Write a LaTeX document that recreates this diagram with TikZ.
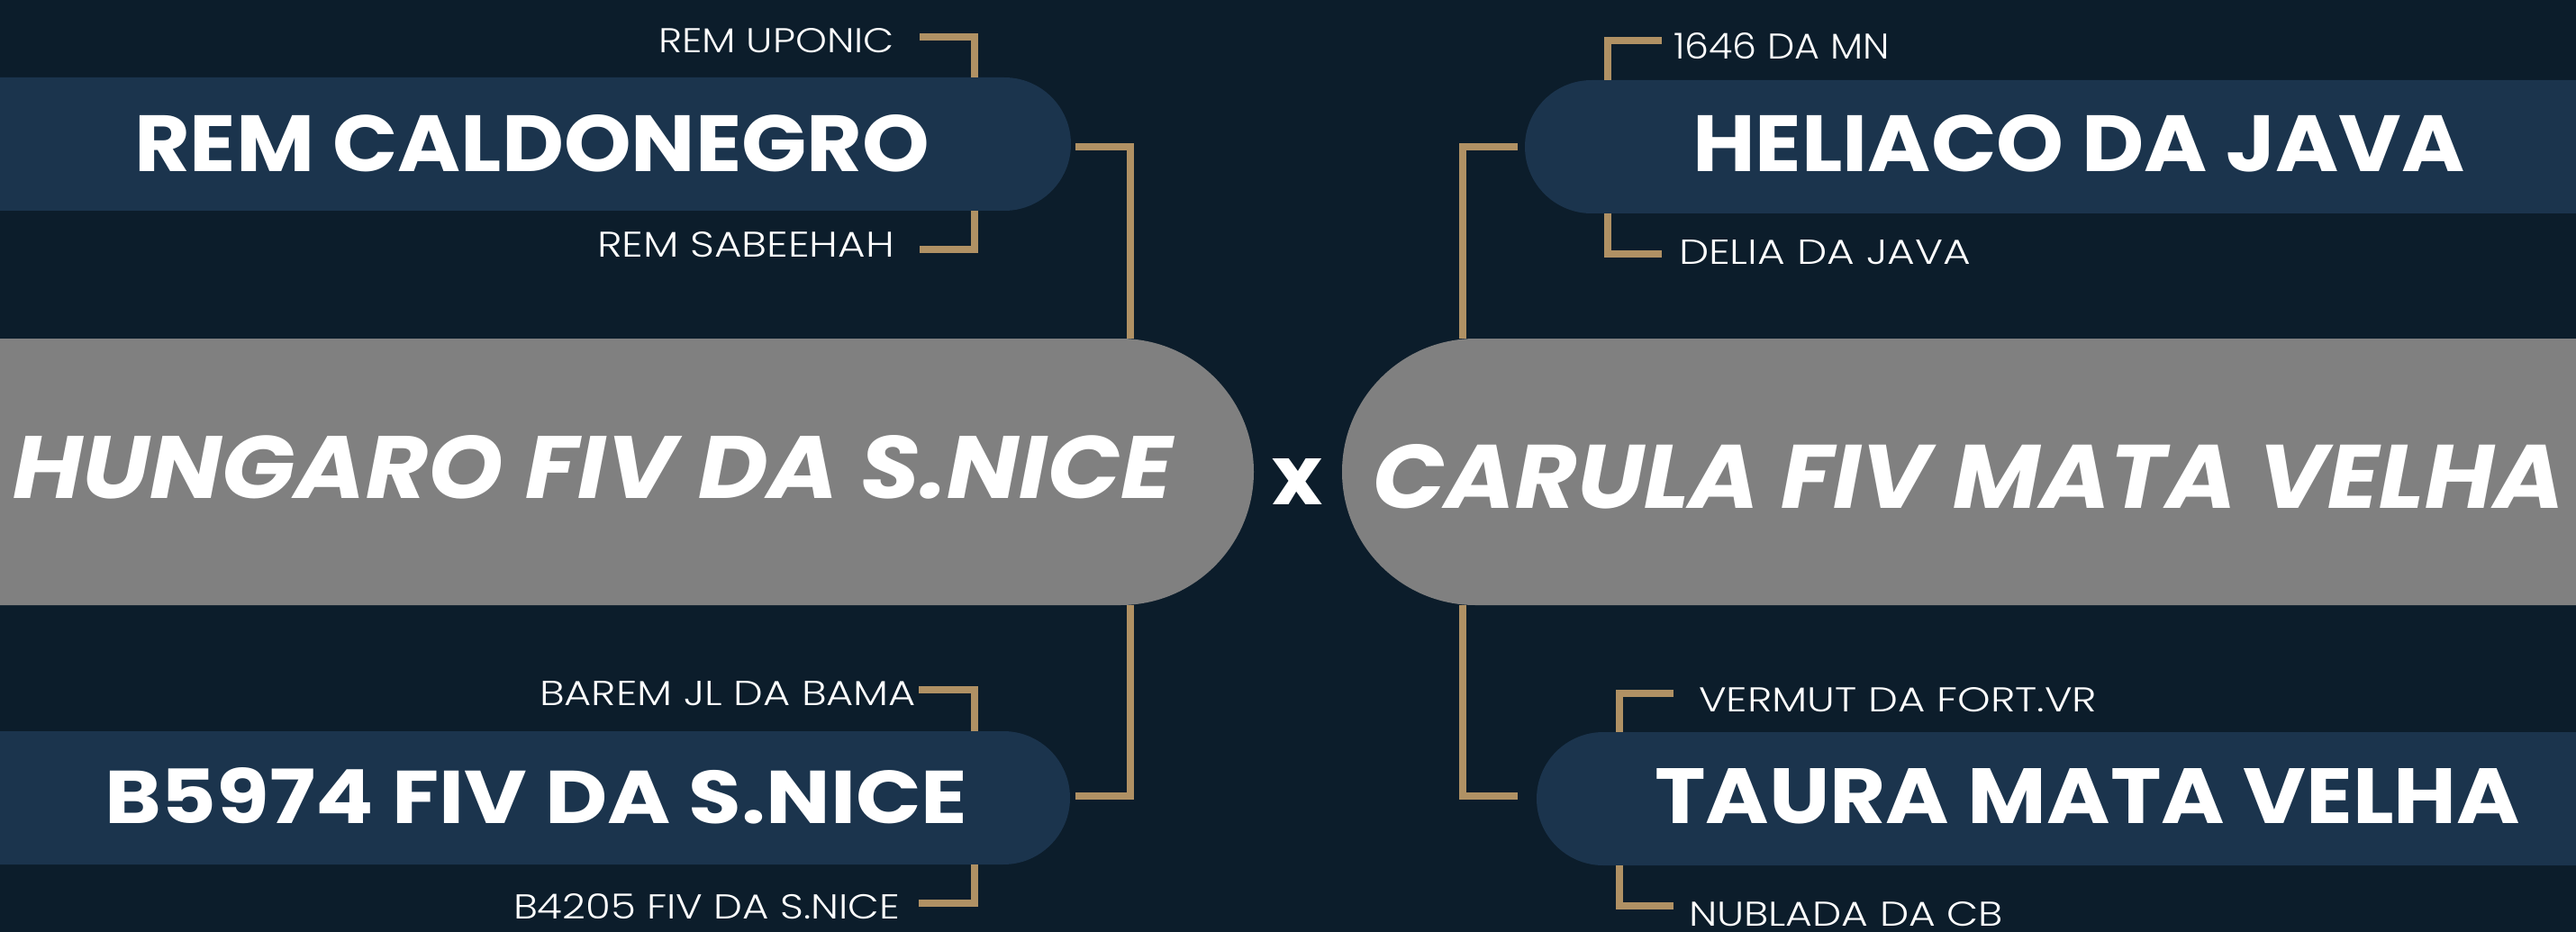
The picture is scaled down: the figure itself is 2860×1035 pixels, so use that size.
\documentclass[tikz,border=0pt]{standalone}
\usepackage{fontspec}
\usepackage{graphicx}
\usetikzlibrary{shapes.misc}
\setmainfont{Poppins}
\IfFontExistsTF{Poppins Light}{\newfontfamily\lightfont{Poppins Light}}{\newfontfamily\lightfont{Poppins}}
\IfFontExistsTF{Poppins Bold}{\newfontfamily\heavyfont{Poppins Bold}}{\newfontfamily\heavyfont{Poppins}[FakeBold=2]}
\IfFontExistsTF{Poppins Bold Italic}{\newfontfamily\heavyitfont{Poppins Bold Italic}}{\newfontfamily\heavyitfont{Poppins}[FakeBold=2,FakeSlant=0.2]}
\definecolor{bgc}{RGB}{12,29,43}
\definecolor{navy}{RGB}{27,52,77}
\definecolor{greyc}{RGB}{128,128,128}
\definecolor{gold}{RGB}{176,145,100}
\newcommand\fitbox[3]{\resizebox{#1pt}{#2pt}{#3}}
\begin{document}
\begin{tikzpicture}[x=1pt,y=-1pt,
  bar/.style={rounded rectangle, inner sep=0pt, outer sep=0pt, minimum height=148pt, fill=navy, draw=none},
  bigbar/.style={rounded rectangle, inner sep=0pt, outer sep=0pt, minimum height=296pt, fill=greyc, draw=none},
  conn/.style={draw=gold, line width=8.5pt, line join=miter},
  lbl/.style={anchor=base west, inner sep=0pt, outer sep=0pt, text=white}]
\useasboundingbox (0,0) rectangle (2860,1035);
\fill[bgc] (0,0) rectangle (2860,1035);

% bars
\node[bar, rounded rectangle left arc=none, minimum width=1199pt, anchor=west] (b1) at (-10,160) {};
\node[bar, rounded rectangle left arc=none, minimum width=1198pt, anchor=west] (b2) at (-10,886) {};
\node[bar, rounded rectangle right arc=none, minimum width=1177pt, anchor=west] (b3) at (1693,163) {};
\node[bar, rounded rectangle right arc=none, minimum width=1164pt, anchor=west] (b4) at (1706,887) {};
\node[bigbar, rounded rectangle left arc=none, minimum width=1402pt, anchor=west] (g1) at (-10,524) {};
\node[bigbar, rounded rectangle right arc=none, minimum width=1380pt, anchor=west] (g2) at (1490,524) {};

% coordinates for connectors
\coordinate (a1) at (1021,41);   \coordinate (a2) at (1082,86);
\coordinate (a3) at (1082,234);  \coordinate (a4) at (1021,277);
\coordinate (c1) at (1194,163);  \coordinate (c2) at (1255,376);
\coordinate (c3) at (1255,672);  \coordinate (c4) at (1194,884);
\coordinate (e1) at (1020,766);  \coordinate (e2) at (1082,812);
\coordinate (e3) at (1082,960);  \coordinate (e4) at (1020,1003);
\coordinate (r1) at (1845,45);   \coordinate (r2) at (1785,89);
\coordinate (r3) at (1785,237);  \coordinate (r4) at (1845,282);
\coordinate (d1) at (1685,163);  \coordinate (d2) at (1624,376);
\coordinate (d3) at (1624,672);  \coordinate (d4) at (1685,884);
\coordinate (s1) at (1858,770);  \coordinate (s2) at (1798,813);
\coordinate (s3) at (1798,961);  \coordinate (s4) at (1858,1006);

\draw[conn] (a1) -| (a2);
\draw[conn] (a3) |- (a4);
\draw[conn] (c1) -| (c2);
\draw[conn] (c3) |- (c4);
\draw[conn] (e1) -| (e2);
\draw[conn] (e3) |- (e4);
\draw[conn] (r1) -| (r2);
\draw[conn] (r3) |- (r4);
\draw[conn] (d1) -| (d2);
\draw[conn] (d3) |- (d4);
\draw[conn] (s1) -| (s2);
\draw[conn] (s3) |- (s4);

% texts
\node[lbl] (t1) at (731,59) {\fitbox{262}{27}{\lightfont REM UPONIC}};
\node[lbl] (t2) at (663,285) {\fitbox{330}{28}{\lightfont REM SABEEHAH}};
\node[lbl] (t3) at (149,191) {\fitbox{883}{63}{\heavyfont REM CALDONEGRO}};
\node[lbl] (t4) at (14,553) {\fitbox{1287}{70}{\heavyitfont HUNGARO FIV DA S.NICE}};
\node[lbl] (t5) at (1412,560) {\fitbox{56}{51}{\heavyfont x}};
\node[lbl] (t6) at (1524,564) {\fitbox{1322}{71}{\heavyitfont CARULA FIV MATA VELHA}};
\node[lbl] (t7) at (1879,191) {\fitbox{857}{63}{\heavyfont HELIACO DA JAVA}};
\node[lbl] (t8) at (1858,66) {\fitbox{240}{29}{\lightfont 1646 DA MN}};
\node[lbl] (t9) at (1864,294) {\fitbox{324}{27}{\lightfont DELIA DA JAVA}};
\node[lbl] (t10) at (599,783) {\fitbox{418}{27}{\lightfont BAREM JL DA BAMA}};
\node[lbl] (t11) at (116,914) {\fitbox{958}{62}{\heavyfont B5974 FIV DA S.NICE}};
\node[lbl] (t12) at (570,1020) {\fitbox{429}{28}{\lightfont B4205 FIV DA S.NICE}};
\node[lbl] (t13) at (1837,914) {\fitbox{961}{61}{\heavyfont TAURA MATA VELHA}};
\node[lbl] (t14) at (1886,790) {\fitbox{442}{27}{\lightfont VERMUT DA FORT.VR}};
\node[lbl] (t15) at (1875,1028) {\fitbox{349}{27}{\lightfont NUBLADA DA CB}};
\end{tikzpicture}
\end{document}
